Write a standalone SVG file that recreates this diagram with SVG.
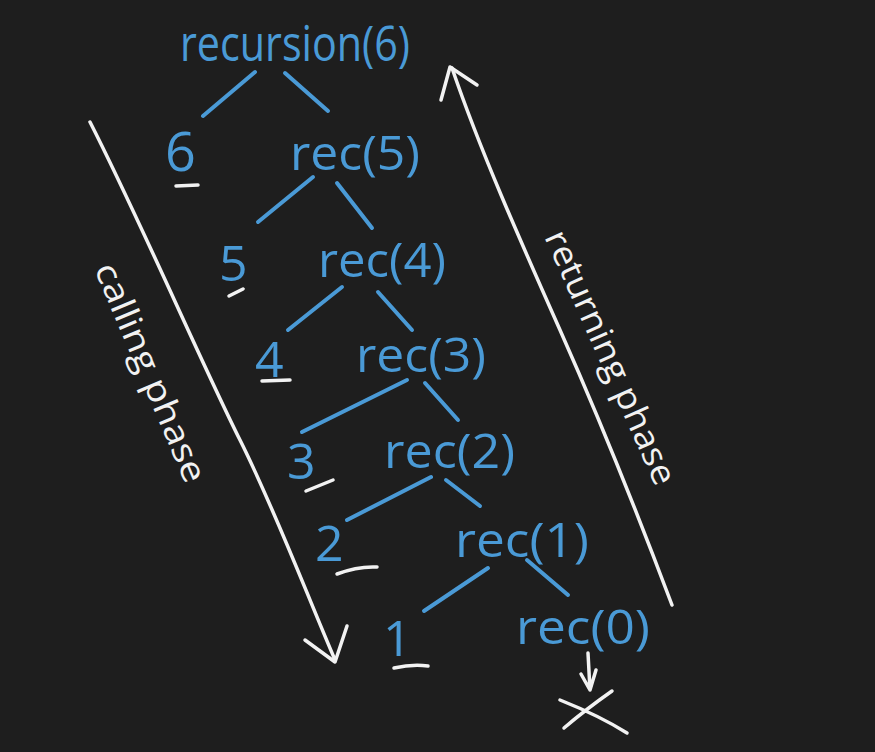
<svg xmlns="http://www.w3.org/2000/svg" width="875" height="752" viewBox="0 0 875 752">
<style>
.b{fill:#4a9ad6;font-family:"Open Sans","Liberation Sans",sans-serif;}
.w{fill:#f2f2f2;font-family:"Open Sans","Liberation Sans",sans-serif;}
.cl{stroke:#4a9ad6;stroke-width:4;stroke-linecap:round;fill:none;}
.wl{stroke:#f2f2f2;stroke-width:3.5;stroke-linecap:round;stroke-linejoin:round;fill:none;}
</style>
<rect width="875" height="752" fill="#1e1e1e"/>
<g id="connectors">
<line class="cl" x1="255" y1="72" x2="203" y2="116"/>
<line class="cl" x1="285" y1="73" x2="328" y2="111"/>
<line class="cl" x1="313" y1="177" x2="258" y2="222"/>
<line class="cl" x1="337" y1="183" x2="372" y2="228"/>
<line class="cl" x1="342" y1="287" x2="288" y2="330"/>
<line class="cl" x1="378" y1="292" x2="412" y2="330"/>
<line class="cl" x1="407" y1="380" x2="302" y2="432"/>
<line class="cl" x1="425" y1="383" x2="458" y2="420"/>
<line class="cl" x1="431" y1="477" x2="347" y2="520"/>
<line class="cl" x1="446" y1="480" x2="480" y2="506"/>
<line class="cl" x1="488" y1="568" x2="424" y2="611"/>
<line class="cl" x1="527" y1="560" x2="568" y2="595"/>
<path class="wl" d="M588 653 L590 690 M581 674 L590 690 L596 670"/>
<path class="wl" d="M90 122 C140 220 200 360 240 440 C275 510 305 590 335 660"/>
<path class="wl" d="M305 640 L335 662 L347 626"/>
<path class="wl" d="M672 605 C640 520 600 420 560 330 C520 240 480 150 452 68"/>
<path class="wl" d="M441 100 L450 67 L477 85"/>
</g>
<g id="n-recursion6"><text class="b" x="180" y="61" font-size="50" textLength="230" lengthAdjust="spacingAndGlyphs">recursion(6)</text></g>
<g id="n-6"><text class="b" x="165" y="171" font-size="54">6</text><line class="wl" x1="176" y1="186" x2="198" y2="185"/></g>
<g id="n-rec5"><text class="b" x="290" y="170" font-size="48" textLength="130" lengthAdjust="spacingAndGlyphs">rec(5)</text></g>
<g id="n-5"><text class="b" x="219" y="281" font-size="50">5</text><path class="wl" d="M229 296 L243 289"/></g>
<g id="n-rec4"><text class="b" x="318" y="277" font-size="48" textLength="128" lengthAdjust="spacingAndGlyphs">rec(4)</text></g>
<g id="n-4"><text class="b" x="255" y="377" font-size="50">4</text><line class="wl" x1="262" y1="381" x2="290" y2="380"/></g>
<g id="n-rec3"><text class="b" x="356" y="372" font-size="48" textLength="130" lengthAdjust="spacingAndGlyphs">rec(3)</text></g>
<g id="n-3"><text class="b" x="287" y="479" font-size="50">3</text><path class="wl" d="M306 491 L333 480"/></g>
<g id="n-rec2"><text class="b" x="384" y="468" font-size="48" textLength="131" lengthAdjust="spacingAndGlyphs">rec(2)</text></g>
<g id="n-2"><text class="b" x="315" y="561" font-size="50">2</text><path class="wl" d="M337 574 Q358 566 377 567"/></g>
<g id="n-rec1"><text class="b" x="455" y="557" font-size="48" textLength="134" lengthAdjust="spacingAndGlyphs">rec(1)</text></g>
<g id="n-1"><text class="b" x="383" y="656" font-size="50">1</text><path class="wl" d="M394 668 Q412 664 428 666"/></g>
<g id="n-rec0"><text class="b" x="516" y="644" font-size="48" textLength="134" lengthAdjust="spacingAndGlyphs">rec(0)</text></g>
<g id="n-x"><path class="wl" d="M560 700 Q600 716 627 733 M612 691 Q585 710 564 728"/></g>
<g id="l-calling"><text class="w" x="0" y="0" font-size="34" text-anchor="middle" textLength="235" lengthAdjust="spacingAndGlyphs" transform="translate(140 377) rotate(67)">calling phase</text></g>
<g id="l-returning"><text class="w" x="0" y="0" font-size="34" text-anchor="middle" textLength="275" lengthAdjust="spacingAndGlyphs" transform="translate(600 362) rotate(66)">returning phase</text></g>
</svg>
